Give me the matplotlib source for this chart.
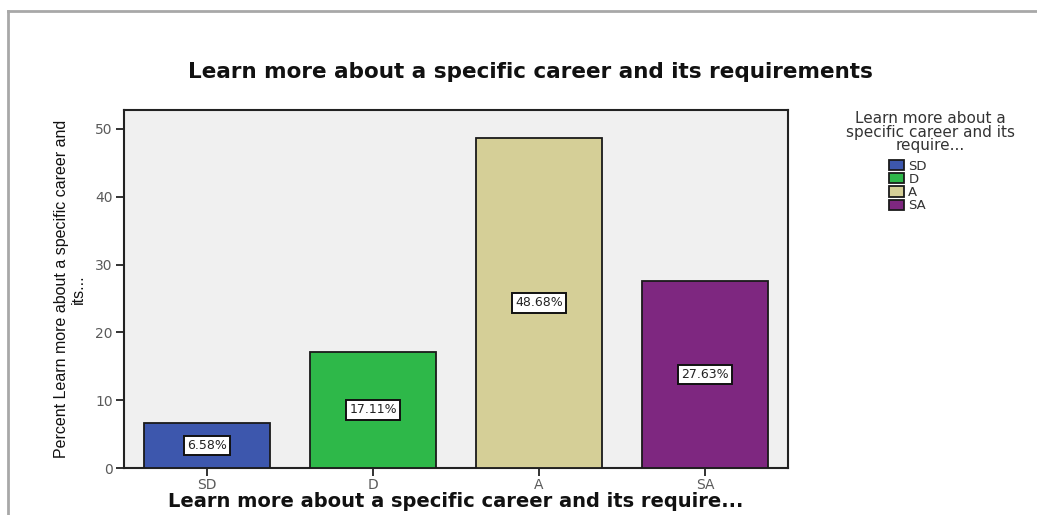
import matplotlib
matplotlib.use("Agg")
import matplotlib.pyplot as plt
from matplotlib.lines import Line2D

# response shares (%) for "Learn more about a specific career and its requirements"
categories = ["SD", "D", "A", "SA"]
percents = [6.58, 17.11, 48.68, 27.63]
bar_colors = ["#3D57AD", "#2EB849", "#D5CF97", "#7E2780"]
y_ticks = [0, 10, 20, 30, 40, 50]

W, H = 1037, 515
fig = plt.figure(figsize=(W / 100, H / 100), dpi=100, facecolor="white")

# grey page frame around the chart
fig.add_artist(Line2D([8 / W, 8 / W], [0, 1 - 11 / H], transform=fig.transFigure,
                      color="#A8A8A8", lw=2))
fig.add_artist(Line2D([8 / W, 1], [1 - 11 / H, 1 - 11 / H], transform=fig.transFigure,
                      color="#A8A8A8", lw=2))

ax = fig.add_axes([124 / W, 1 - 468 / H, 664 / W, 358 / H])
ax.set_facecolor("#F0F0F0")

x = range(len(categories))
bars = ax.bar(x, percents, width=0.76, color=bar_colors, edgecolor="#1A1A1A",
              linewidth=1.3, zorder=3)

for xi, p in zip(x, percents):
    ax.text(xi, p / 2, f"{p:.2f}%", ha="center", va="center", fontsize=9,
            color="#222222", family="DejaVu Sans", zorder=4,
            bbox=dict(boxstyle="square,pad=0.25", fc="white", ec="#111111", lw=1.4))

ax.set_xlim(-0.5, len(categories) - 0.5)
ax.set_ylim(0, 52.8)
ax.set_yticks(y_ticks)
ax.set_xticks(list(x))
ax.set_xticklabels(categories)
ax.tick_params(axis="both", direction="out", length=6, width=1.3, color="#222222",
               labelcolor="#5A5A5A", labelsize=10)
ax.tick_params(axis="y", pad=2)
ax.tick_params(axis="x", pad=1)
for s in ax.spines.values():
    s.set_linewidth(1.5)
    s.set_color("#222222")

ax.set_ylabel("Percent Learn more about a specific career and\nits...",
              fontsize=11.5, color="#111111", labelpad=7, linespacing=1.15,
              family="Liberation Sans")
ax.set_xlabel("Learn more about a specific career and its require...",
              fontsize=14, fontweight="bold", color="#111111", labelpad=0,
              family="DejaVu Sans")

fig.text(530 / W, 1 - 72 / H, "Learn more about a specific career and its requirements",
         ha="center", va="center", fontsize=15.5, fontweight="bold", color="#111111",
         family="DejaVu Sans")

# legend: title centred above, swatches listed underneath
fig.text(930 / W, 1 - 132 / H, "Learn more about a\nspecific career and its\nrequire...",
         ha="center", va="center", fontsize=11, color="#333333", linespacing=0.85,
         family="DejaVu Sans")
ax.legend(bars, categories, loc="upper left", bbox_to_anchor=(882 / W, 1 - 153 / H),
          bbox_transform=fig.transFigure, frameon=False, fontsize=9.5,
          handlelength=1.2, handleheight=0.8, labelspacing=0.02, borderpad=0,
          handletextpad=0.3, labelcolor="#333333")

fig.savefig("out.png", dpi=100, facecolor="white")
